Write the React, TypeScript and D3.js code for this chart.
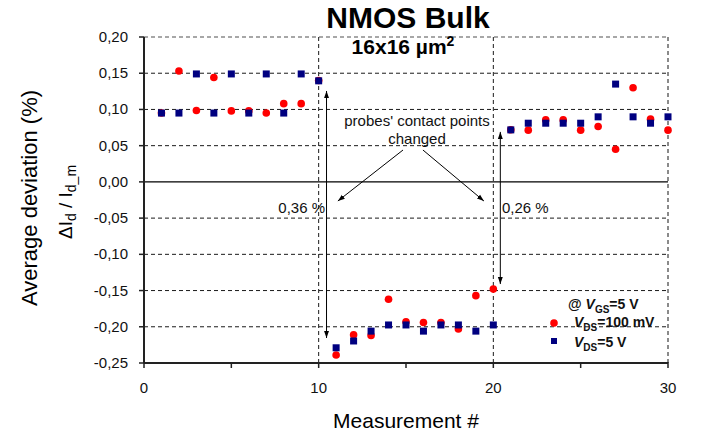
import React from "react";
import * as d3 from "d3";

const measurements = [1, 2, 3, 4, 5, 6, 7, 8, 9, 10, 11, 12, 13, 14, 15, 16, 17, 18, 19, 20, 21, 22, 23, 24, 25, 26, 27, 28, 29, 30];
const vds100mV = [0.095, 0.153, 0.0985, 0.144, 0.098, 0.098, 0.095, 0.108, 0.108, 0.14, -0.239, -0.211, -0.212, -0.162, -0.193, -0.194, -0.194, -0.203, -0.157, -0.148, 0.072, 0.0714, 0.0856, 0.0856, 0.0714, 0.0764, 0.045, 0.13, 0.0866, 0.0714];
const vds5V = [0.095, 0.095, 0.149, 0.095, 0.149, 0.095, 0.149, 0.095, 0.149, 0.1395, -0.229, -0.2196, -0.206, -0.1975, -0.1975, -0.206, -0.1975, -0.1975, -0.206, -0.1975, 0.0718, 0.081, 0.081, 0.081, 0.081, 0.0898, 0.135, 0.0898, 0.081, 0.0898];
const yTicks = [0.2, 0.15, 0.1, 0.05, 0, -0.05, -0.1, -0.15, -0.2, -0.25];
const xTickLabels = [0, 10, 20, 30];
const xMinorTicks = [0, 5, 10, 15, 20, 25, 30];
const shiftLabels = ["0,36 %", "0,26 %"];

const W = 702, H = 437;
const FONT = "'Liberation Sans', Arial, sans-serif";

export default function App() {
  const x = d3.scaleLinear().domain([0, 30]).range([144, 668]);
  const y = d3.scaleLinear().domain([-0.25, 0.2]).range([363, 37]);
  const fmt = (v: number) => d3.format(".2f")(v).replace(".", ",").replace("−", "-");
  const dash = "4,3";

  return (
    <svg width={W} height={H} style={{ position: "absolute", left: 0, top: 0, background: "#fff" }} fontFamily={FONT}>
      <defs>
        <marker id="ah" viewBox="0 0 10 10" refX="10" refY="5" markerWidth="7" markerHeight="7" orient="auto-start-reverse" markerUnits="userSpaceOnUse">
          <path d="M0,1.5 L10,5 L0,8.5 z" fill="#000" />
        </marker>
      </defs>
      <rect width={W} height={H} fill="#fff" />
      {/* horizontal gridlines */}
      {yTicks.filter(t => t !== 0 && t !== -0.25 && t !== 0.2).map(t => (
        <line key={t} x1={x(0)} x2={x(30)} y1={y(t)} y2={y(t)} stroke="#000" strokeWidth={0.9} strokeDasharray={dash} />
      ))}
      <line x1={x(0)} x2={x(30)} y1={y(0.2)} y2={y(0.2)} stroke="#8a8a8a" strokeWidth={1.5} strokeDasharray={dash} />
      {/* vertical gridlines */}
      {[10, 20].map(t => (
        <line key={t} x1={x(t)} x2={x(t)} y1={y(0.2)} y2={y(-0.25)} stroke="#000" strokeWidth={0.9} strokeDasharray={dash} />
      ))}
      <line x1={x(30)} x2={x(30)} y1={y(0.2)} y2={y(-0.25)} stroke="#8a8a8a" strokeWidth={2} strokeDasharray={dash} />
      {/* zero line */}
      <line x1={x(0)} x2={x(30)} y1={y(0)} y2={y(0)} stroke="#000" strokeWidth={1.2} />
      {/* axes */}
      <line x1={x(0)} x2={x(0)} y1={y(0.2)} y2={y(-0.25)} stroke="#222" strokeWidth={2} />
      <line x1={x(0)} x2={x(30)} y1={y(-0.25)} y2={y(-0.25)} stroke="#222" strokeWidth={2} />
      {yTicks.map(t => (
        <g key={t}>
          <line x1={x(0) - 5} x2={x(0)} y1={y(t)} y2={y(t)} stroke="#222" strokeWidth={1.5} />
          <text x={x(0) - 16} y={y(t) + 5} textAnchor="end" fontSize={15} fill="#111">{fmt(t)}</text>
        </g>
      ))}
      {xMinorTicks.map(t => (
        <line key={t} x1={x(t)} x2={x(t)} y1={y(-0.25) - 1} y2={y(-0.25) + 5} stroke="#222" strokeWidth={1.5} />
      ))}
      {xTickLabels.map(t => (
        <text key={t} x={x(t)} y={393} textAnchor="middle" fontSize={15} fill="#111">{t}</text>
      ))}
      {/* data */}
      {measurements.map((m, i) => (
        <circle key={"c" + m} cx={x(m)} cy={y(vds100mV[i])} r={3.8} fill="#ff0000" />
      ))}
      {measurements.map((m, i) => (
        <rect key={"s" + m} x={x(m) - 3.5} y={y(vds5V[i]) - 3.5} width={7} height={7} fill="#000080" />
      ))}
      {/* annotations */}
      <line x1={x(10.45)} x2={x(10.45)} y1={y(0.1255)} y2={y(-0.2155)} stroke="#000" strokeWidth={1} markerStart="url(#ah)" markerEnd="url(#ah)" />
      <line x1={x(20.4)} x2={x(20.4)} y1={y(0.069)} y2={y(-0.141)} stroke="#000" strokeWidth={1} markerStart="url(#ah)" markerEnd="url(#ah)" />
      <line x1={x(14.83)} y1={y(0.044)} x2={x(11.1)} y2={y(-0.0264)} stroke="#000" strokeWidth={1} markerEnd="url(#ah)" />
      <line x1={x(15.97)} y1={y(0.044)} x2={x(19.46)} y2={y(-0.0264)} stroke="#000" strokeWidth={1} markerEnd="url(#ah)" />
      <text x={x(15.63)} y={126} textAnchor="middle" fontSize={15} fill="#111">probes' contact points</text>
      <text x={x(15.63)} y={144} textAnchor="middle" fontSize={15} fill="#111">changed</text>
      <text x={325} y={213} textAnchor="end" fontSize={15} fill="#111">{shiftLabels[0]}</text>
      <text x={502} y={213} textAnchor="start" fontSize={15} fill="#111">{shiftLabels[1]}</text>
      {/* legend */}
      <text x={568} y={309} fontSize={14} fontWeight="bold" fill="#111">
        @ <tspan fontStyle="italic">V</tspan><tspan fontSize={10} dy={4}>GS</tspan><tspan dy={-4}>=5 V</tspan>
      </text>
      <circle cx={554} cy={323} r={3.8} fill="#ff0000" />
      <text x={574} y={327} fontSize={14} fontWeight="bold" fill="#111">
        <tspan fontStyle="italic">V</tspan><tspan fontSize={10} dy={4}>DS</tspan><tspan dy={-4}>=100 mV</tspan>
      </text>
      <rect x={551} y={338} width={6} height={6} fill="#000080" />
      <text x={574} y={347} fontSize={14} fontWeight="bold" fill="#111">
        <tspan fontStyle="italic">V</tspan><tspan fontSize={10} dy={4}>DS</tspan><tspan dy={-4}>=5 V</tspan>
      </text>
      {/* titles */}
      <text x={408} y={28} textAnchor="middle" fontSize={30} fontWeight="bold" fill="#000">NMOS Bulk</text>
      <text x={403} y={54} textAnchor="middle" fontSize={21} fontWeight="bold" fill="#000">
        16x16 µm<tspan fontSize={14} dy={-8}>2</tspan>
      </text>
      <text x={406} y={428} textAnchor="middle" fontSize={21} fill="#000">Measurement #</text>
      <text transform="translate(37,198) rotate(-90)" textAnchor="middle" fontSize={22} fill="#000">Average deviation (%)</text>
      <text transform="translate(72,202) rotate(-90)" textAnchor="middle" fontSize={19} fill="#000">
        ΔI<tspan fontSize={14} dy={4}>d</tspan><tspan dy={-4}>{"  /  "}</tspan>I<tspan fontSize={14} dy={4}>d_m</tspan>
      </text>
    </svg>
  );
}
